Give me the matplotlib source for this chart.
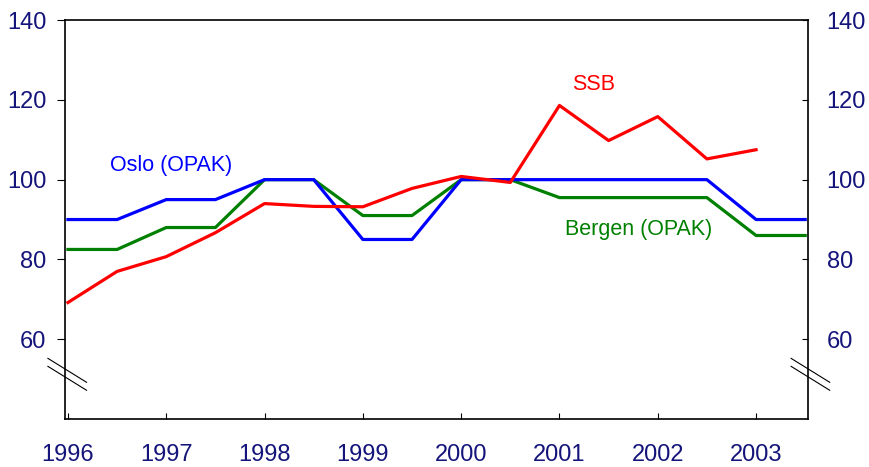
import numpy as np
import matplotlib
matplotlib.use('Agg')
import matplotlib.pyplot as plt
from matplotlib.lines import Line2D

plt.rcParams['font.family'] = ['Liberation Sans', 'DejaVu Sans']

# half-year observations
years = [1996.0, 1996.5, 1997.0, 1997.5, 1998.0, 1998.5, 1999.0, 1999.5,
         2000.0, 2000.5, 2001.0, 2001.5, 2002.0, 2002.5, 2003.0, 2003.5]
oslo = [90, 90, 95, 95, 100, 100, 85, 85, 100, 100, 100, 100, 100, 100, 90, 90]
bergen = [82.5, 82.5, 88, 88, 100, 100, 91, 91, 100, 100,
          95.5, 95.5, 95.5, 95.5, 86, 86]
ssb = [69.2, 77, 80.7, 86.7, 94, 93.3, 93.2, 97.8, 100.8, 99.3,
       118.6, 109.8, 115.8, 105.2, 107.5]

tick_years = list(range(1996, 2004))
y_ticks = [60, 80, 100, 120, 140]

navy = '#14147a'

fig = plt.figure(figsize=(8.69, 4.67), dpi=100)
ax = fig.add_axes([0.0748, 0.1028, 0.8552, 0.8542])

ax.plot(years, bergen, color='#008000', lw=2.3)
ax.plot(years, oslo, color='#0000ff', lw=2.3)
ax.plot(years[:len(ssb)], ssb, color='#ff0000', lw=2.3)

ax.set_xlim(1995.97, 2003.53)
ax.set_ylim(40, 140)
ax.set_xticks(tick_years)
ax.set_yticks(y_ticks)

ax.tick_params(axis='x', direction='in', length=4, pad=18,
               labelsize=17, labelcolor=navy)
ax.tick_params(axis='y', direction='out', length=5.8, pad=7.5,
               labelsize=17, labelcolor=navy, right=True, labelright=True)
for t in ax.yaxis.get_major_ticks():
    t.tick2line.set_marker(0)  # right ticks point inward (to the left)
    t.tick2line.set_markersize(4.5)

for s in ax.spines.values():
    s.set_linewidth(1.2)

ax.text(1996.43, 103.6, 'Oslo (OPAK)', color='#0000ff', fontsize=15.5, va='center')
ax.text(2001.13, 123.75, 'SSB', color='#ff0000', fontsize=15.5, va='center')
ax.text(2001.06, 87.5, 'Bergen (OPAK)', color='#008000', fontsize=15.5, va='center')

# axis break marks
for xc in (0.0, 1.0):
    for dy in (0.0, 0.02):
        ax.add_line(Line2D([xc - 0.023, xc + 0.029],
                           [0.132 + dy, 0.072 + dy],
                           transform=ax.transAxes, color='black',
                           lw=0.8, clip_on=False))

fig.savefig('out.png', dpi=100)
